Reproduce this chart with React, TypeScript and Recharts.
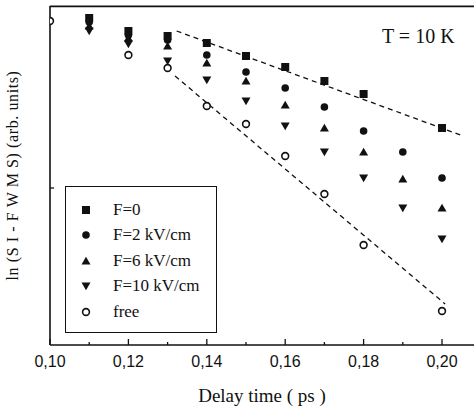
import { ScatterChart, Scatter, XAxis, YAxis, Legend, ReferenceLine } from 'recharts'

// values (y in arbitrary ln units)
const delayF0 = [0.11, 0.12, 0.13, 0.14, 0.15, 0.16, 0.17, 0.18, 0.2]
const signalF0 = [3.27, 3.14, 3.09, 3.02, 2.89, 2.78, 2.64, 2.51, 2.17]

const delayField = [0.11, 0.12, 0.13, 0.14, 0.15, 0.16, 0.17, 0.18, 0.19, 0.2]
const signalF2 = [3.23, 3.1, 3.05, 2.9, 2.73, 2.57, 2.38, 2.14, 1.93, 1.67]
const signalF6 = [3.19, 3.07, 2.99, 2.82, 2.64, 2.4, 2.17, 1.93, 1.66, 1.37]
const signalF10 = [3.14, 3.01, 2.84, 2.65, 2.44, 2.19, 1.93, 1.67, 1.37, 1.06]

const delayFree = [0.1, 0.12, 0.13, 0.14, 0.15, 0.16, 0.17, 0.18, 0.2]
const signalFree = [3.24, 2.9, 2.77, 2.39, 2.21, 1.89, 1.51, 1.0, 0.34]

const fitF0Delay = [0.1323, 0.2054]
const fitF0Signal = [3.14, 2.09]
const fitFreeDelay = [0.1319, 0.2008]
const fitFreeSignal = [2.69, 0.41]

const xTicks = [0.1, 0.11, 0.12, 0.13, 0.14, 0.15, 0.16, 0.17, 0.18, 0.19, 0.2]
const yTicks = [1.57]
const yTop = 3.39
const seriesLabels = ['F=0', 'F=2 kV/cm', 'F=6 kV/cm', 'F=10 kV/cm', 'free']
const seriesMarks = ['square', 'circle', 'up', 'down', 'open'] as const

const zip = (ts: number[], vs: number[]) => ts.map((t, i) => ({ t, v: vs[i] }))

const SERIF = '"Liberation Serif", "Times New Roman", serif'
const SANS = '"Liberation Sans", Arial, sans-serif'
const INK = '#111'

type Mark = (typeof seriesMarks)[number]

function Marker({ kind, cx, cy }: { kind: Mark; cx: number; cy: number }) {
  switch (kind) {
    case 'square':
      return <rect x={cx - 4} y={cy - 4} width={8} height={8} fill={INK} />
    case 'circle':
      return <circle cx={cx} cy={cy} r={3.8} fill={INK} />
    case 'up':
      return <path d={`M${cx},${cy - 4.3} L${cx + 4.5},${cy + 3.5} L${cx - 4.5},${cy + 3.5} Z`} fill={INK} />
    case 'down':
      return <path d={`M${cx},${cy + 4.3} L${cx + 4.5},${cy - 3.5} L${cx - 4.5},${cy - 3.5} Z`} fill={INK} />
    default:
      return <circle cx={cx} cy={cy} r={3.4} fill="#fff" stroke={INK} strokeWidth={1.6} />
  }
}

function XTick({ x, y, payload, index }: any) {
  const major = index % 2 === 0
  return (
    <g>
      <line x1={x} x2={x} y1={y} y2={y - (major ? 6 : 3)} stroke={INK} strokeWidth={1.3} />
      {major && (
        <text x={x} y={y + 22} textAnchor="middle" fontFamily={SANS} fontSize={16} fill={INK}>
          {payload.value.toFixed(2).replace('.', ',')}
        </text>
      )}
    </g>
  )
}

function YTick({ x, y }: any) {
  return <line x1={x} x2={x + 4} y1={y} y2={y} stroke={INK} strokeWidth={1.3} />
}

function LegendBox() {
  return (
    <div
      style={{
        boxSizing: 'border-box',
        width: 152,
        height: 147,
        border: `1.5px solid ${INK}`,
        paddingTop: 10,
        background: '#fff',
      }}
    >
      {seriesLabels.map((label, i) => (
        <div key={label} style={{ display: 'flex', alignItems: 'center', height: 25.5 }}>
          <svg width={14} height={14} style={{ marginLeft: 13 }}>
            <Marker kind={seriesMarks[i]} cx={7} cy={7} />
          </svg>
          <span style={{ marginLeft: 20, fontFamily: SERIF, fontSize: 17, color: INK }}>{label}</span>
        </div>
      ))}
    </div>
  )
}

const seriesData = [
  zip(delayF0, signalF0),
  zip(delayField, signalF2),
  zip(delayField, signalF6),
  zip(delayField, signalF10),
  zip(delayFree, signalFree),
]

export default function App() {
  return (
    <div style={{ position: 'absolute', left: 0, top: 0, width: 474, height: 409, background: '#fff' }}>
      <ScatterChart width={474} height={409} margin={{ top: 6, right: 0, bottom: 34, left: 0 }}>
        <XAxis
          type="number"
          dataKey="t"
          domain={[0.1, 0.20816]}
          allowDataOverflow
          ticks={xTicks}
          interval={0}
          tickSize={0}
          tickMargin={0}
          tickLine={false}
          tick={<XTick />}
          height={30}
          axisLine={{ stroke: INK, strokeWidth: 1.6 }}
          label={{
            value: 'Delay time ( ps )',
            position: 'insideBottom',
            offset: -27,
            style: { fontFamily: SERIF, fontSize: 19, fill: INK },
          }}
        />
        <YAxis
          type="number"
          dataKey="v"
          domain={[0, yTop]}
          allowDataOverflow
          ticks={yTicks}
          width={50}
          tickSize={0}
          tickMargin={0}
          tickLine={false}
          tick={<YTick />}
          axisLine={{ stroke: INK, strokeWidth: 1.6 }}
          label={{
            value: 'ln (S I - F W M S) (arb. units)',
            angle: -90,
            position: 'insideLeft',
            offset: 12,
            style: { fontFamily: SERIF, fontSize: 16, fill: INK, letterSpacing: 0.6, textAnchor: 'middle' },
          }}
        />
        {/* top frame edge */}
        <ReferenceLine y={yTop - 0.004} stroke={INK} strokeWidth={1.8} ifOverflow="visible" />
        <Scatter
          data={zip(fitF0Delay, fitF0Signal)}
          line={{ stroke: INK, strokeWidth: 1.3, strokeDasharray: '5 4' }}
          shape={() => <g />}
          legendType="none"
          isAnimationActive={false}
        />
        <Scatter
          data={zip(fitFreeDelay, fitFreeSignal)}
          line={{ stroke: INK, strokeWidth: 1.3, strokeDasharray: '5 4' }}
          shape={() => <g />}
          legendType="none"
          isAnimationActive={false}
        />
        {seriesData.map((data, i) => (
          <Scatter
            key={seriesLabels[i]}
            name={seriesLabels[i]}
            data={data}
            isAnimationActive={false}
            shape={(p: any) => <Marker kind={seriesMarks[i]} cx={p.cx} cy={p.cy} />}
          />
        ))}
        <Legend
          layout="vertical"
          align="center"
          verticalAlign="middle"
          content={() => <LegendBox />}
          wrapperStyle={{ left: 65, top: 186, width: 152, height: 147 }}
        />
      </ScatterChart>
      <div
        style={{
          position: 'absolute',
          left: 382,
          top: 24,
          fontFamily: SERIF,
          fontSize: 20,
          color: INK,
          lineHeight: '24px',
          whiteSpace: 'nowrap',
        }}
      >
        T = 10 K
      </div>
    </div>
  )
}
